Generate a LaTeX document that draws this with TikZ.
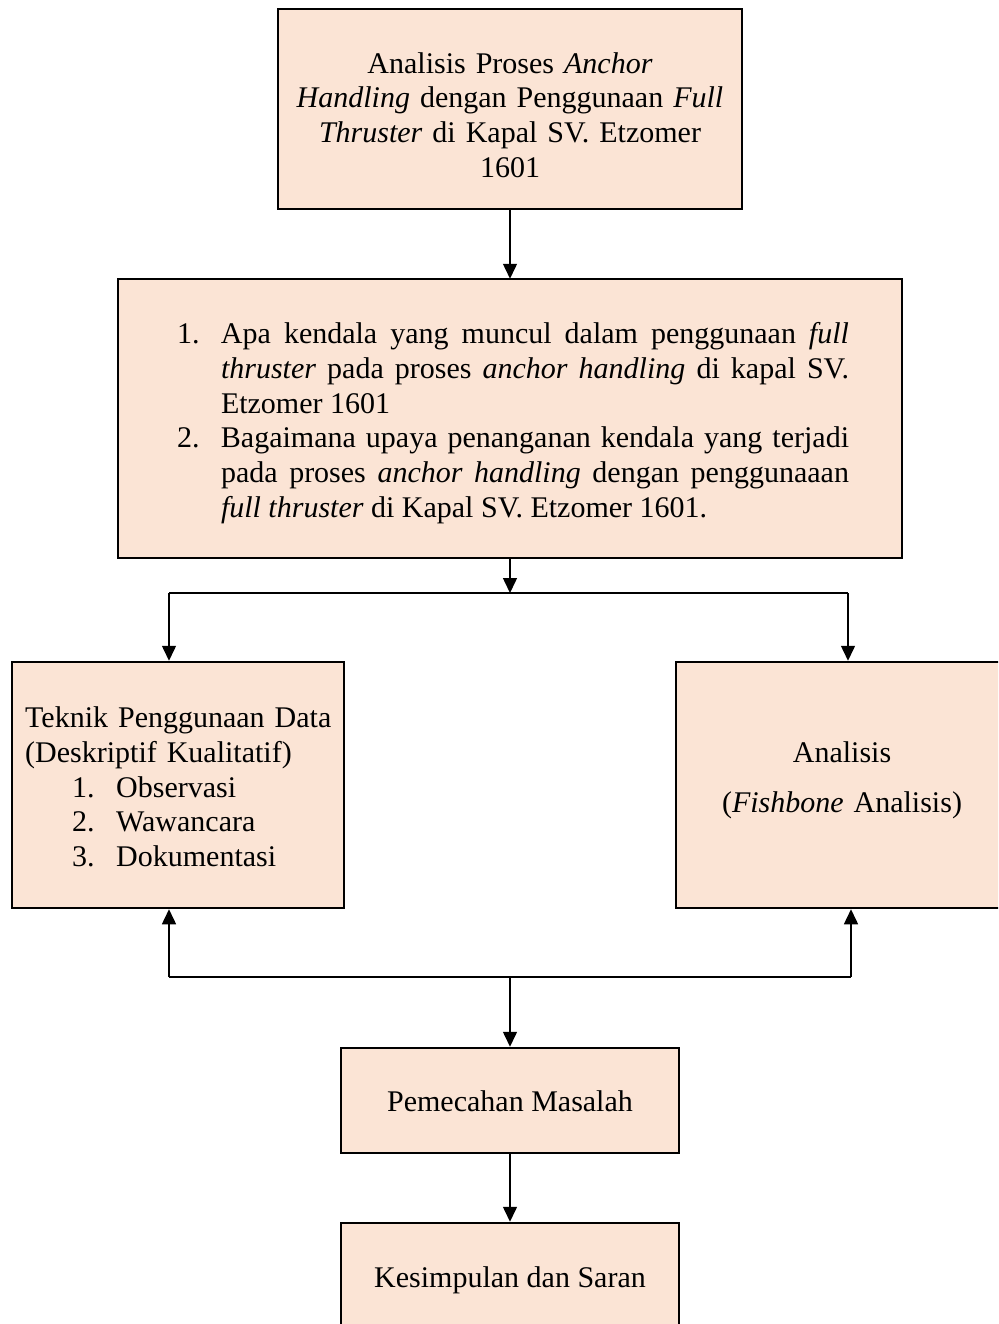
\documentclass[tikz,border=0pt]{standalone}
\usepackage{fontspec}
\setmainfont{Liberation Serif}
\usetikzlibrary{arrows.meta}
\definecolor{peach}{HTML}{FBE4D5}
\begin{document}
\begin{tikzpicture}[x=1pt,y=-1pt,
 box/.style={draw=black, line width=2.5pt, fill=peach, inner sep=0pt},
 txt/.style={inner sep=0pt, font=\fontsize{30}{34.7}\selectfont},
 arr/.style={line width=1.5pt, -{Triangle[length=15pt,width=14pt]}},
 ln/.style={line width=1.5pt}]
\useasboundingbox (0,0) rectangle (998,1324);
\clip (0,0) rectangle (998,1324);
\fill[white] (0,0) rectangle (998,1324);
% boxes
\node[box, minimum width=464pt, minimum height=200pt] (top) at (510,109) {};
\node[box, minimum width=784pt, minimum height=279pt] (q) at (510,418.5) {};
\node[box, minimum width=332pt, minimum height=246pt] (tek) at (178,785) {};
\node[box, minimum width=332pt, minimum height=246pt] (ana) at (842,785) {};
\node[box, minimum width=338pt, minimum height=105pt] (pem) at (510,1100.5) {};
\node[box, minimum width=338pt, minimum height=116pt] (kes) at (510,1281) {};
% texts
\node[txt, text width=450pt, align=center] (toptext) at (510,115)
 {Analisis Proses \textit{Anchor}\\ \textit{Handling} dengan Penggunaan \textit{Full}\\ \textit{Thruster} di Kapal SV. Etzomer\\ 1601};
\node[txt, text width=672pt, align=justify] (qtext) at (513,423)
 {\hangindent=44pt\hangafter=1\noindent\makebox[44pt][l]{1.}Apa kendala yang muncul dalam penggunaan \textit{full}\linebreak \textit{thruster} pada proses \textit{anchor handling} di kapal SV.\linebreak Etzomer 1601\par
  \hangindent=44pt\hangafter=1\noindent\makebox[44pt][l]{2.}Bagaimana upaya penanganan kendala yang terjadi\linebreak pada proses \textit{anchor handling} dengan penggunaaan\linebreak \textit{full thruster} di Kapal SV. Etzomer 1601.\par};
\node[txt, text width=312pt, align=left, anchor=west] (tektext) at (25,787)
 {Teknik Penggunaan Data\\ (Deskriptif Kualitatif)\\
  \hspace*{47pt}\makebox[44pt][l]{1.}Observasi\\
  \hspace*{47pt}\makebox[44pt][l]{2.}Wawancara\\
  \hspace*{47pt}\makebox[44pt][l]{3.}Dokumentasi};
\node[txt, text width=310pt, align=center] (anatext) at (842,780)
 {Analisis\\[15pt] (\textit{Fishbone} Analisis)};
\node[txt] (pemtext) at (510,1101) {Pemecahan Masalah};
\node[txt] (kestext) at (510,1280) {Kesimpulan dan Saran};
% connectors
\coordinate (j1) at (510,593);
\coordinate (l1) at (169,593);
\coordinate (r1) at (848,593);
\coordinate (j2) at (510,977);
\coordinate (l2) at (169,977);
\coordinate (r2) at (851,977);
\draw[arr] (top.south) -- ([yshift=-1pt]q.north);
\draw[arr] (q.south) -- (j1);
\draw[ln] (l1) -- (r1);
\draw[arr] (l1) -- (l1 |- tek.north);
\draw[arr] (r1) -- (r1 |- ana.north);
\draw[ln] (l2) -- (r2);
\draw[arr] (l2) -- (l2 |- tek.south);
\draw[arr] (r2) -- (r2 |- ana.south);
\draw[arr] (j2) -- (pem.north);
\draw[arr] (pem.south) -- (kes.north);
\end{tikzpicture}
\end{document}
